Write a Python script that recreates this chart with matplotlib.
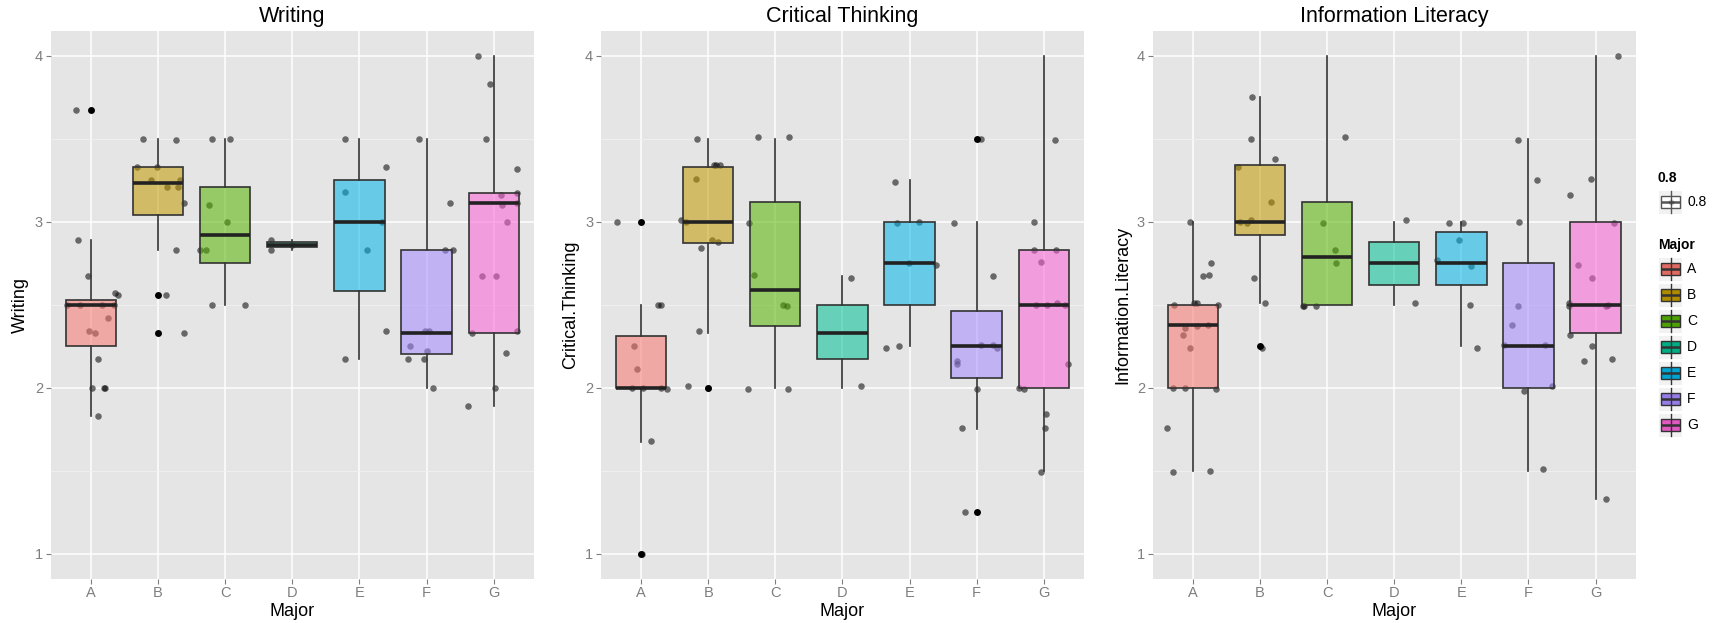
import numpy as np
import matplotlib

matplotlib.use("Agg")
import matplotlib.pyplot as plt
from matplotlib.colors import to_rgb
from matplotlib.patches import Rectangle

plt.rcParams["font.family"] = ["Liberation Sans", "DejaVu Sans"]

MAJORS = ["A", "B", "C", "D", "E", "F", "G"]
MAJOR_COLORS = ["#F8766D", "#C49A00", "#53B400", "#00C094", "#00B6EB", "#A58AFF", "#FB61D7"]
BOX_ALPHA = 0.55

# ---- Writing ----
writing_q1 = [2.25, 3.04, 2.75, 2.845, 2.58, 2.20, 2.33]
writing_med = [2.50, 3.23, 2.92, 2.86, 3.00, 2.33, 3.11]
writing_q3 = [2.53, 3.33, 3.21, 2.875, 3.25, 2.83, 3.17]
writing_lo = [1.83, 2.83, 2.50, 2.83, 2.17, 2.00, 1.89]
writing_hi = [2.89, 3.50, 3.50, 2.89, 3.50, 3.50, 4.00]
writing_out = [[3.67], [2.56, 2.33], [], [], [], [], []]
writing_values = [
    [3.67, 2.89, 2.67, 2.57, 2.56, 2.50, 2.50, 2.50, 2.50, 2.42, 2.34, 2.33, 2.17, 2.00, 2.00, 2.00, 1.83],
    [3.50, 3.49, 3.33, 3.33, 3.25, 3.21, 3.21, 3.25, 3.11, 2.83, 2.56, 2.33],
    [3.50, 3.50, 3.10, 3.00, 2.83, 2.83, 2.50, 2.50],
    [2.89, 2.83, 2.86],
    [3.50, 3.33, 3.18, 3.00, 2.83, 2.34, 2.17],
    [3.50, 3.11, 2.83, 2.83, 2.34, 2.34, 2.25, 2.22, 2.17, 2.17, 2.00],
    [4.00, 3.83, 3.50, 3.32, 3.16, 3.17, 3.10, 3.11, 3.00, 2.67, 2.67, 2.33, 2.34, 2.21, 2.00, 1.89],
]
writing_jitter = [
    [-0.22, -0.19, -0.04, 0.36, 0.40, -0.36, -0.16, 0.16, 0.35, 0.25, -0.03, 0.06, 0.11, 0.02, 0.20, 0.21, 0.11],
    [-0.22, 0.27, -0.31, -0.02, -0.10, 0.14, 0.29, 0.32, 0.39, 0.27, 0.12, 0.39],
    [-0.20, 0.07, -0.24, 0.03, -0.38, -0.29, -0.20, 0.30],
    [-0.32, -0.32, 0.00],
    [-0.22, 0.40, -0.21, 0.34, 0.12, 0.40, -0.22],
    [-0.12, 0.35, 0.27, 0.39, -0.03, 0.03, -0.24, 0.00, -0.28, -0.04, 0.09],
    [-0.23, -0.06, -0.12, 0.34, 0.11, 0.35, 0.12, 0.35, 0.20, -0.18, 0.04, -0.33, 0.34, 0.19, 0.02, -0.39],
]

# ---- Critical Thinking ----
critical_q1 = [2.00, 2.87, 2.37, 2.17, 2.50, 2.06, 2.00]
critical_med = [2.00, 3.00, 2.59, 2.33, 2.75, 2.25, 2.50]
critical_q3 = [2.31, 3.33, 3.12, 2.50, 3.00, 2.46, 2.83]
critical_lo = [1.67, 2.33, 2.00, 2.00, 2.25, 1.75, 1.50]
critical_hi = [2.50, 3.50, 3.50, 2.67, 3.25, 3.00, 4.00]
critical_out = [[3.00, 1.00], [2.00], [], [], [], [3.50, 1.25], []]
critical_values = [
    [3.00, 2.50, 2.50, 2.25, 2.11, 2.00, 2.00, 2.00, 1.99, 1.68, 1.00],
    [3.50, 3.34, 3.34, 3.34, 3.26, 3.01, 3.00, 2.89, 2.88, 2.84, 2.34, 2.01, 2.00],
    [3.51, 3.51, 2.99, 2.68, 2.50, 2.49, 1.99, 1.99],
    [2.66, 2.01],
    [3.24, 2.99, 3.00, 2.75, 2.74, 2.24, 2.25],
    [3.50, 2.99, 2.67, 2.26, 2.26, 2.24, 2.16, 2.14, 1.99, 1.76, 1.25],
    [3.49, 3.00, 2.83, 2.83, 2.76, 2.50, 2.50, 2.51, 2.50, 2.14, 2.00, 1.99, 1.84, 1.76, 1.49],
]
critical_jitter = [
    [-0.36, 0.25, 0.29, -0.10, -0.06, -0.14, 0.03, 0.30, 0.38, 0.15, 0.01],
    [-0.17, 0.08, 0.12, 0.18, -0.18, -0.40, -0.33, 0.05, 0.14, -0.11, -0.14, -0.30, 0.00],
    [-0.26, 0.20, -0.39, -0.31, 0.11, 0.18, -0.40, 0.19],
    [0.13, 0.28],
    [-0.21, -0.19, 0.14, -0.01, 0.40, -0.35, -0.15],
    [0.07, -0.34, 0.25, 0.07, 0.25, 0.31, -0.30, -0.30, 0.01, -0.22, -0.18],
    [0.16, -0.15, -0.15, 0.18, -0.04, -0.11, 0.05, 0.20, 0.32, 0.36, -0.37, -0.30, 0.03, 0.02, -0.04],
]

# ---- Information Literacy ----
info_q1 = [2.00, 2.92, 2.50, 2.62, 2.62, 2.00, 2.33]
info_med = [2.38, 3.00, 2.79, 2.75, 2.75, 2.25, 2.50]
info_q3 = [2.50, 3.34, 3.12, 2.875, 2.94, 2.75, 3.00]
info_lo = [1.50, 2.51, 2.50, 2.50, 2.25, 1.50, 1.33]
info_hi = [3.00, 3.75, 4.00, 3.00, 3.00, 3.50, 4.00]
info_out = [[], [2.25], [], [], [], [], []]
info_values = [
    [3.00, 2.75, 2.68, 2.67, 2.50, 2.51, 2.51, 2.50, 2.36, 2.37, 2.38, 2.32, 2.24, 2.00, 2.00, 1.99, 1.76, 1.49, 1.50],
    [3.75, 3.50, 3.38, 3.33, 3.12, 3.00, 2.99, 3.01, 2.66, 2.51, 2.24],
    [3.51, 2.99, 2.83, 2.75, 2.49, 2.49, 2.49],
    [3.01, 2.51],
    [2.99, 2.99, 2.89, 2.77, 2.73, 2.50, 2.24],
    [3.49, 3.25, 3.00, 2.49, 2.38, 2.26, 2.26, 2.01, 1.98, 1.51],
    [4.00, 3.26, 3.16, 2.99, 2.74, 2.66, 2.51, 2.49, 2.49, 2.50, 2.32, 2.25, 2.16, 2.17, 1.33],
]
info_jitter = [
    [-0.05, 0.27, 0.24, 0.15, -0.28, 0.02, 0.06, 0.38, -0.11, 0.06, 0.22, -0.14, -0.05, -0.30, -0.11, 0.34, -0.38, -0.30, 0.26],
    [-0.12, -0.14, 0.23, -0.33, 0.16, -0.30, -0.19, -0.13, -0.09, 0.08, 0.03],
    [0.27, -0.06, 0.12, 0.13, -0.36, -0.34, -0.17],
    [0.17, 0.31],
    [-0.18, 0.03, -0.03, -0.36, 0.14, 0.13, 0.23],
    [-0.16, 0.13, -0.14, -0.16, -0.24, -0.36, 0.25, 0.35, -0.07, 0.22],
    [0.33, -0.07, -0.38, 0.27, -0.26, -0.06, -0.40, -0.39, 0.15, 0.19, -0.38, -0.05, -0.17, 0.24, 0.15],
]

Y_TICKS = [1, 2, 3, 4]
Y_MINOR = [1.5, 2.5, 3.5]

PANEL_BG = "#E5E5E5"
LINE_DARK = "#333333"
TEXT_GREY = "#7F7F7F"


def draw_panel(ax, title, ylabel, q1, med, q3, lo, hi, outliers, values, jitter):
    ax.set_facecolor(PANEL_BG)
    ax.set_axisbelow(True)

    for i, (vals, offs) in enumerate(zip(values, jitter)):
        xs = i + 1 + np.array(offs)
        ax.scatter(xs, vals, s=22, color="black", alpha=0.55, linewidths=0, zorder=2)

    stats = [
        dict(q1=q1[i], med=med[i], q3=q3[i], whislo=lo[i], whishi=hi[i], fliers=outliers[i], label=m)
        for i, m in enumerate(MAJORS)
    ]
    bp = ax.bxp(
        stats,
        positions=range(1, len(MAJORS) + 1),
        widths=0.75,
        patch_artist=True,
        showcaps=False,
        boxprops=dict(edgecolor=LINE_DARK, linewidth=1.2),
        medianprops=dict(color="#222222", linewidth=2.6, solid_capstyle="butt"),
        whiskerprops=dict(color=LINE_DARK, linewidth=1.2),
        flierprops=dict(marker="o", markerfacecolor="black", markeredgecolor="none", markersize=5),
        zorder=3,
    )
    for patch, color in zip(bp["boxes"], MAJOR_COLORS):
        patch.set_facecolor((*to_rgb(color), BOX_ALPHA))

    ax.set_xlim(0.4, 7.6)
    ax.set_ylim(0.85, 4.15)
    ax.set_xticks(range(1, len(MAJORS) + 1))
    ax.set_xticklabels(MAJORS)
    ax.set_yticks(Y_TICKS)
    ax.set_yticks(Y_MINOR, minor=True)
    ax.grid(True, which="major", color="white", linewidth=1.1)
    ax.grid(True, which="minor", axis="y", color="#F2F2F2", linewidth=0.6)
    for spine in ax.spines.values():
        spine.set_visible(False)
    ax.tick_params(which="major", length=3.5, width=0.8, color=TEXT_GREY,
                   labelcolor=TEXT_GREY, labelsize=10.5, pad=2)
    ax.tick_params(which="minor", length=0)

    ax.set_title(title, fontsize=15.5, pad=6)
    ax.set_xlabel("Major", fontsize=13, labelpad=2)
    ax.set_ylabel(ylabel, fontsize=13, labelpad=4)


def draw_key(ax, x0, yc, fill, edge, with_point=False):
    ax.add_patch(Rectangle((x0, yc - 11.5), 23, 23, facecolor="#F2F2F2", edgecolor="none"))
    xc = x0 + 11.5
    ax.plot([xc, xc], [yc - 11, yc + 11], color=edge, linewidth=1.0)
    ax.add_patch(Rectangle((x0 + 2, yc - 6), 19, 12, facecolor=fill, edgecolor=edge, linewidth=1.0))
    if with_point:
        ax.scatter([xc], [yc], s=18, color="black", alpha=0.2, linewidths=0, zorder=3)
    ax.plot([x0 + 2, x0 + 21], [yc, yc], color=edge, linewidth=1.8, solid_capstyle="butt")


def draw_legend(fig):
    left, top, right, bottom = 1640, 160, 1718, 440
    ax = fig.add_axes([left / 1718, 1 - bottom / 623, (right - left) / 1718, (bottom - top) / 623])
    ax.set_xlim(left, right)
    ax.set_ylim(bottom, top)
    ax.axis("off")

    ax.text(1658, 178, "0.8", fontsize=10, fontweight="bold", va="center", ha="left")
    draw_key(ax, 1659, 202, "white", "#555555", with_point=True)
    ax.text(1687, 202, "0.8", fontsize=10, va="center", ha="left")

    ax.text(1658, 245, "Major", fontsize=10, fontweight="bold", va="center", ha="left")
    for i, (name, color) in enumerate(zip(MAJORS, MAJOR_COLORS)):
        yc = 269 + i * 26
        fill = tuple(c * 0.9 for c in to_rgb(color))
        draw_key(ax, 1659, yc, fill, LINE_DARK)
        ax.text(1687, yc, name, fontsize=10, va="center", ha="left")


def main():
    fig = plt.figure(figsize=(17.18, 6.23), dpi=100)
    fig.patch.set_facecolor("white")

    bottom = 0.0713
    height = 0.8793
    width = 0.2813
    lefts = [0.0295, 0.3497, 0.6709]

    panels = [
        ("Writing", "Writing", writing_q1, writing_med, writing_q3, writing_lo, writing_hi,
         writing_out, writing_values, writing_jitter),
        ("Critical Thinking", "Critical.Thinking", critical_q1, critical_med, critical_q3,
         critical_lo, critical_hi, critical_out, critical_values, critical_jitter),
        ("Information Literacy", "Information.Literacy", info_q1, info_med, info_q3, info_lo,
         info_hi, info_out, info_values, info_jitter),
    ]
    for left, panel in zip(lefts, panels):
        ax = fig.add_axes([left, bottom, width, height])
        draw_panel(ax, *panel)

    draw_legend(fig)
    fig.savefig("out.png", dpi=100)


if __name__ == "__main__":
    main()
